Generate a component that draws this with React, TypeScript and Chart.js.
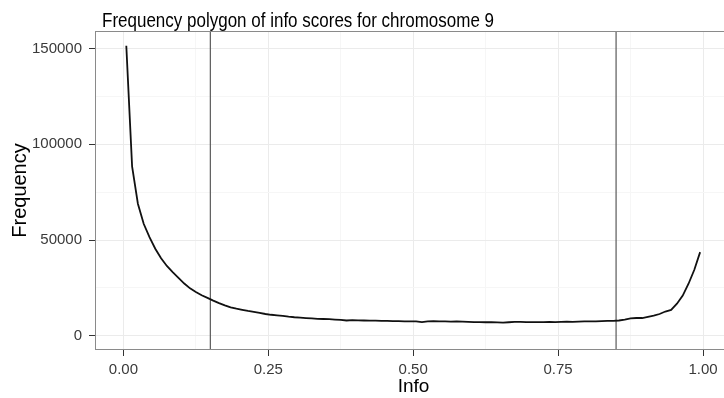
import React, { useEffect, useRef } from "react";
import { Chart, registerables } from "chart.js";

Chart.register(...registerables);

const titleText = "Frequency polygon of info scores for chromosome 9";
const xAxisTitle = "Info";
const yAxisTitle = "Frequency";

const infoBins = [
  0.005, 0.015, 0.025, 0.035, 0.045, 0.055, 0.065, 0.075, 0.085, 0.095,
  0.105, 0.115, 0.125, 0.135, 0.145, 0.155, 0.165, 0.175, 0.185, 0.195,
  0.205, 0.215, 0.225, 0.235, 0.245, 0.255, 0.265, 0.275, 0.285, 0.295,
  0.305, 0.315, 0.325, 0.335, 0.345, 0.355, 0.365, 0.375, 0.385, 0.395,
  0.405, 0.415, 0.425, 0.435, 0.445, 0.455, 0.465, 0.475, 0.485, 0.495,
  0.505, 0.515, 0.525, 0.535, 0.545, 0.555, 0.565, 0.575, 0.585, 0.595,
  0.605, 0.615, 0.625, 0.635, 0.645, 0.655, 0.665, 0.675, 0.685, 0.695,
  0.705, 0.715, 0.725, 0.735, 0.745, 0.755, 0.765, 0.775, 0.785, 0.795,
  0.805, 0.815, 0.825, 0.835, 0.845, 0.855, 0.865, 0.875, 0.885, 0.895,
  0.905, 0.915, 0.925, 0.935, 0.945, 0.955, 0.965, 0.975, 0.985, 0.995,
];

const frequencies = [
  151500, 88500, 69000, 58500, 51500, 45500, 40500, 36500, 33300, 30300,
  27300, 24800, 22900, 21200, 19800, 18400, 17100, 15900, 14900, 14200,
  13600, 13000, 12500, 12000, 11400, 11000, 10700, 10400, 10000, 9700,
  9500, 9300, 9100, 8900, 8800, 8700, 8500, 8300, 8000, 8200,
  8100, 8000, 7900, 7900, 7800, 7800, 7700, 7700, 7600, 7600,
  7500, 7200, 7500, 7700, 7600, 7500, 7400, 7500, 7400, 7300,
  7200, 7200, 7100, 7100, 7000, 6900, 7100, 7300, 7300, 7200,
  7200, 7200, 7200, 7300, 7200, 7300, 7400, 7300, 7400, 7500,
  7500, 7600, 7700, 7800, 7800, 8000, 8500, 9100, 9300, 9300,
  9900, 10500, 11400, 12700, 13500, 16800, 21000, 27200, 34500, 43700,
];

const cutoffs = [0.15, 0.85];

const xTickValues = [0, 0.125, 0.25, 0.375, 0.5, 0.625, 0.75, 0.875, 1];
const xMajorTicks = [0, 0.25, 0.5, 0.75, 1];
const yTickValues = [0, 25000, 50000, 75000, 100000, 125000, 150000];
const yMajorTicks = [0, 50000, 100000, 150000];

const FONT = "'Liberation Sans', Arial, Helvetica, sans-serif";

const panelPlugin = {
  id: "panelDecor",
  beforeDatasetsDraw(chart: any) {
    const { ctx, chartArea, scales } = chart;
    ctx.save();
    ctx.strokeStyle = "#5a5a5a";
    ctx.lineWidth = 1.2;
    cutoffs.forEach((c) => {
      const px = scales.x.getPixelForValue(c);
      ctx.beginPath();
      ctx.moveTo(px, chartArea.top);
      ctx.lineTo(px, chartArea.bottom);
      ctx.stroke();
    });
    ctx.restore();
  },
  afterDatasetsDraw(chart: any) {
    const { ctx, chartArea } = chart;
    ctx.save();
    ctx.strokeStyle = "#8a8a8a";
    ctx.lineWidth = 1;
    ctx.strokeRect(
      chartArea.left + 0.5,
      chartArea.top + 0.5,
      chartArea.right - chartArea.left - 1,
      chartArea.bottom - chartArea.top - 1
    );
    ctx.restore();
  },
  afterDraw(chart: any) {
    const { ctx } = chart;
    ctx.save();
    ctx.translate(298, 27);
    ctx.scale(1, 1.1);
    ctx.font = `19px ${FONT}`;
    ctx.fillStyle = "#000";
    ctx.textAlign = "center";
    ctx.textBaseline = "alphabetic";
    ctx.fillText(titleText, 0, 0, 392);
    ctx.restore();
  },
};

export default function App() {
  const canvasRef = useRef<HTMLCanvasElement | null>(null);

  useEffect(() => {
    document.body.style.margin = "0";
    document.body.style.overflow = "hidden";
    const canvas = canvasRef.current;
    if (!canvas) return;

    const chart = new Chart(canvas, {
      type: "line",
      data: {
        datasets: [
          {
            label: yAxisTitle,
            data: infoBins.map((x, i) => ({ x, y: frequencies[i] })),
            borderColor: "#111",
            borderWidth: 1.8,
            pointRadius: 0,
            tension: 0,
            fill: false,
          },
        ],
      },
      options: {
        animation: false,
        responsive: true,
        maintainAspectRatio: false,
        layout: { padding: { top: 31, left: 0, right: 8, bottom: 0 } },
        plugins: {
          legend: { display: false },
          tooltip: { enabled: false },
          title: { display: false },
        },
        scales: {
          x: {
            type: "linear",
            min: -0.049,
            max: 1.05,
            afterBuildTicks: (scale: any) => {
              scale.ticks = xTickValues.map((v) => ({ value: v }));
            },
            afterFit: (scale: any) => {
              scale.height = 48;
            },
            ticks: {
              autoSkip: false,
              maxRotation: 0,
              padding: 5,
              color: "#3a3a3a",
              font: { family: FONT, size: 15 },
              callback: (value: any) =>
                xMajorTicks.includes(Number(value)) ? Number(value).toFixed(2) : "",
            },
            grid: {
              color: (c: any) =>
                xMajorTicks.includes(c.tick?.value) ? "#ebebeb" : "#f6f6f6",
              lineWidth: 1,
              tickLength: 6,
              tickWidth: 1,
              tickColor: (c: any) =>
                xMajorTicks.includes(c.tick?.value) ? "#333" : "rgba(0,0,0,0)",
            },
            border: { display: false },
            title: {
              display: true,
              text: xAxisTitle,
              color: "#000",
              font: { family: FONT, size: 19 },
              padding: { top: 0, bottom: 0 },
            },
          },
          y: {
            type: "linear",
            min: -7400,
            max: 159200,
            afterBuildTicks: (scale: any) => {
              scale.ticks = yTickValues.map((v) => ({ value: v }));
            },
            afterFit: (scale: any) => {
              scale.width = 95;
            },
            ticks: {
              autoSkip: false,
              padding: 7,
              color: "#3a3a3a",
              font: { family: FONT, size: 15 },
              callback: (value: any) =>
                yMajorTicks.includes(Number(value)) ? String(value) : "",
            },
            grid: {
              color: (c: any) =>
                yMajorTicks.includes(c.tick?.value) ? "#ebebeb" : "#f6f6f6",
              lineWidth: 1,
              tickLength: 6,
              tickWidth: 1,
              tickColor: (c: any) =>
                yMajorTicks.includes(c.tick?.value) ? "#333" : "rgba(0,0,0,0)",
            },
            border: { display: false },
            title: {
              display: true,
              text: yAxisTitle,
              color: "#000",
              font: { family: FONT, size: 20 },
              padding: { top: 8, bottom: 0 },
            },
          },
        },
      },
      plugins: [panelPlugin],
    });

    return () => chart.destroy();
  }, []);

  return (
    <div style={{ width: 724, height: 398, overflow: "hidden", position: "relative", background: "#fff" }}>
      <div style={{ width: 740, height: 398, position: "relative" }}>
        <canvas ref={canvasRef} />
      </div>
    </div>
  );
}
